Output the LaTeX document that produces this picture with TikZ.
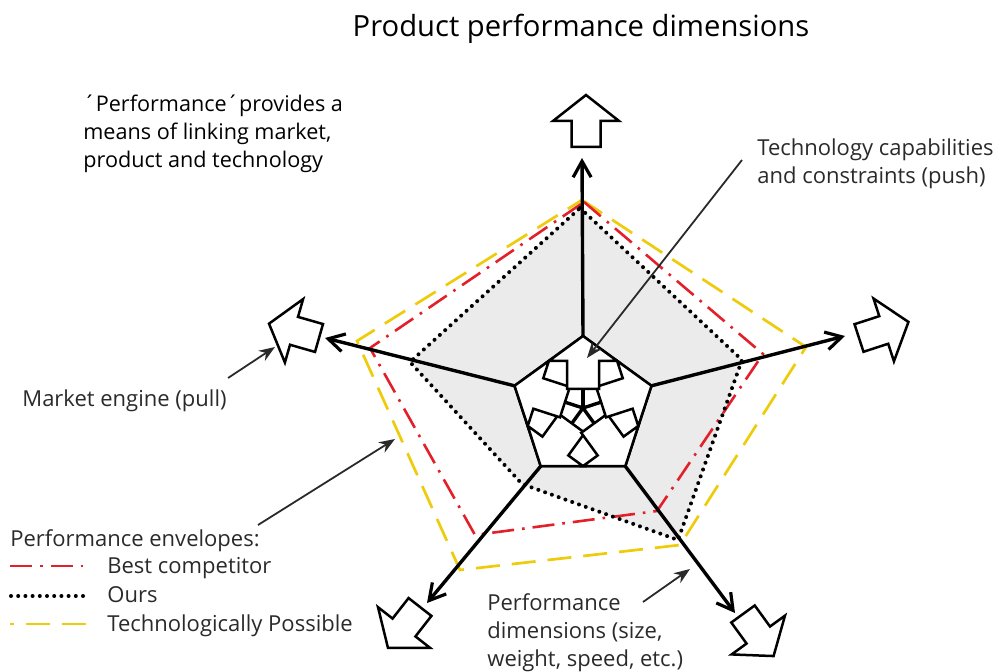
\documentclass[tikz,border=0pt]{standalone}
\usepackage{fontspec}
\setmainfont{Open Sans}
\usetikzlibrary{arrows.meta}
\definecolor{envyellow}{HTML}{EECC0C}
\definecolor{envred}{HTML}{E3202A}
\definecolor{oursgray}{HTML}{EBEBEB}
\definecolor{labelgray}{HTML}{2A2A2A}
\tikzset{
  yellowenv/.style={draw=envyellow, line width=1.35pt, dash pattern=on 12pt off 6pt},
  redenv/.style={draw=envred, line width=1.3pt, dash pattern=on 11pt off 4pt on 1.3pt off 4pt},
  oursenv/.style={draw=black, line width=2pt, line cap=round, dash pattern=on 0pt off 3.6pt},
  axisline/.style={line width=1.7pt, -{Straight Barb[length=8pt,width=9pt,line width=1.6pt]}},
  axisinner/.style={line width=1.7pt},
  blockline/.style={draw=black, fill=white, line width=1.25pt, line join=miter},
  leader/.style={draw=labelgray, line width=0.9pt, -{Stealth[length=8pt,width=6pt]}},
  lbl/.style={text=labelgray, inner sep=0pt, font=\fontsize{11}{14}\selectfont, align=left},
  blockarrow/.pic={\path[blockline] (0,-14.5)--(26,-14.5)--(26,-33)--(52,0)--(26,33)--(26,14.5)--(0,14.5)--cycle;},
  innerarrow/.pic={\path[blockline] (19,-16)--(47,-16)--(47,-34.2)--(72,0)--(47,34.2)--(47,16)--(19,16)--cycle;}
}
\begin{document}
\begin{tikzpicture}[x=0.5pt,y=-0.5pt]
\useasboundingbox (0,0) rectangle (1000,672);

% centre and pentagon vertices
\coordinate (c) at (583,408);
\coordinate (vt) at (583,336);
\coordinate (vl) at (514.5,385.8);
\coordinate (vr) at (651.5,385.8);
\coordinate (vbl) at (540.7,466.2);
\coordinate (vbr) at (625.3,466.2);
% axis tips
\coordinate (tt) at (582,158);
\coordinate (tl) at (325,338);
\coordinate (tr) at (845,336);
\coordinate (tbl) at (427,603);
\coordinate (tbr) at (735,613);

% Ours (gray filled)
\fill[oursgray] (580,208) -- (742,360) -- (678,540) -- (522,484) -- (410,362) -- cycle;
% envelopes
\draw[yellowenv] (582,200) -- (806,347) -- (680,545) -- (460,570) -- (357,341) -- cycle;
\draw[redenv] (584,202) -- (763,354) -- (657,511) -- (475,535) -- (370,348) -- cycle;
\draw[oursenv] (580,208) -- (742,360) -- (678,540) -- (522,484) -- (410,362) -- cycle;

% white central pentagon
\path[fill=white, draw=black, line width=1.25pt] (vt) -- (vl) -- (vbl) -- (vbr) -- (vr) -- cycle;

% axes (from the centre, partly hidden by the inner arrows)
\draw[axisinner] (c) -- (vt);
\draw[axisinner] (c) -- (vl);
\draw[axisinner] (c) -- (vr);
\draw[axisinner] (c) -- (vbl);
\draw[axisinner] (c) -- (vbr);
\draw[axisline] (vt) -- (tt);
\draw[axisline] (vl) -- (tl);
\draw[axisline] (vr) -- (tr);
\draw[axisline] (vbl) -- (tbl);
\draw[axisline] (vbr) -- (tbr);

% inner arrows
\pic[rotate=234] at (c) {innerarrow};
\pic[rotate=306] at (c) {innerarrow};
\pic[rotate=162] at (c) {innerarrow};
\pic[rotate=18] at (c) {innerarrow};
\pic[rotate=90] at (c) {innerarrow};

% outer block arrows
\pic[rotate=90] at (586,147) {blockarrow};
\pic[rotate=164] at (319,338) {blockarrow};
\pic[rotate=18] at (859,338) {blockarrow};
\pic[rotate=232] at (420,607) {blockarrow};
\pic[rotate=306] at (743,614) {blockarrow};

% texts
\node[inner sep=0pt, anchor=base, text=black, font=\fontsize{14.6}{17}\selectfont] (title) at (581,37) {Product performance dimensions};
\node[lbl, text=black, anchor=base west, font=\fontsize{10.8}{14}\selectfont] (linking) at (83,168) {´Performance´provides a\\means of linking market,\\product and technology};
\node[lbl, anchor=base west] (tech) at (757,184) {Technology capabilities\\and constraints (push)};
\node[lbl, anchor=base west] (market) at (22,407) {Market engine (pull)};
\node[lbl, anchor=base west] (envel) at (10,546) {Performance envelopes:};
\node[lbl, anchor=base west] (leg1) at (107,574) {Best competitor};
\node[lbl, anchor=base west] (leg2) at (107,603) {Ours};
\node[lbl, anchor=base west] (leg3) at (107,632) {Technologically Possible};
\node[lbl, anchor=base west] (dims) at (487,666) {Performance\\dimensions (size,\\weight, speed, etc.)};

% legend samples
\draw[redenv] (10,566) -- (90,566);
\draw[oursenv] (11,596) -- (90,596);
\draw[yellowenv, dash phase=10pt] (10,624) -- (90,624);

% leader arrows
\coordinate (techs) at (742,160);
\coordinate (teche) at (587,358);
\coordinate (markets) at (228,378);
\coordinate (markete) at (275,347);
\coordinate (envs) at (258,525);
\coordinate (enve) at (395,439);
\coordinate (dimss) at (643,602);
\coordinate (dimse) at (690,569);
\draw[leader] (techs) -- (teche);
\draw[leader] (markets) -- (markete);
\draw[leader] (envs) -- (enve);
\draw[leader] (dimss) -- (dimse);
\end{tikzpicture}
\end{document}
